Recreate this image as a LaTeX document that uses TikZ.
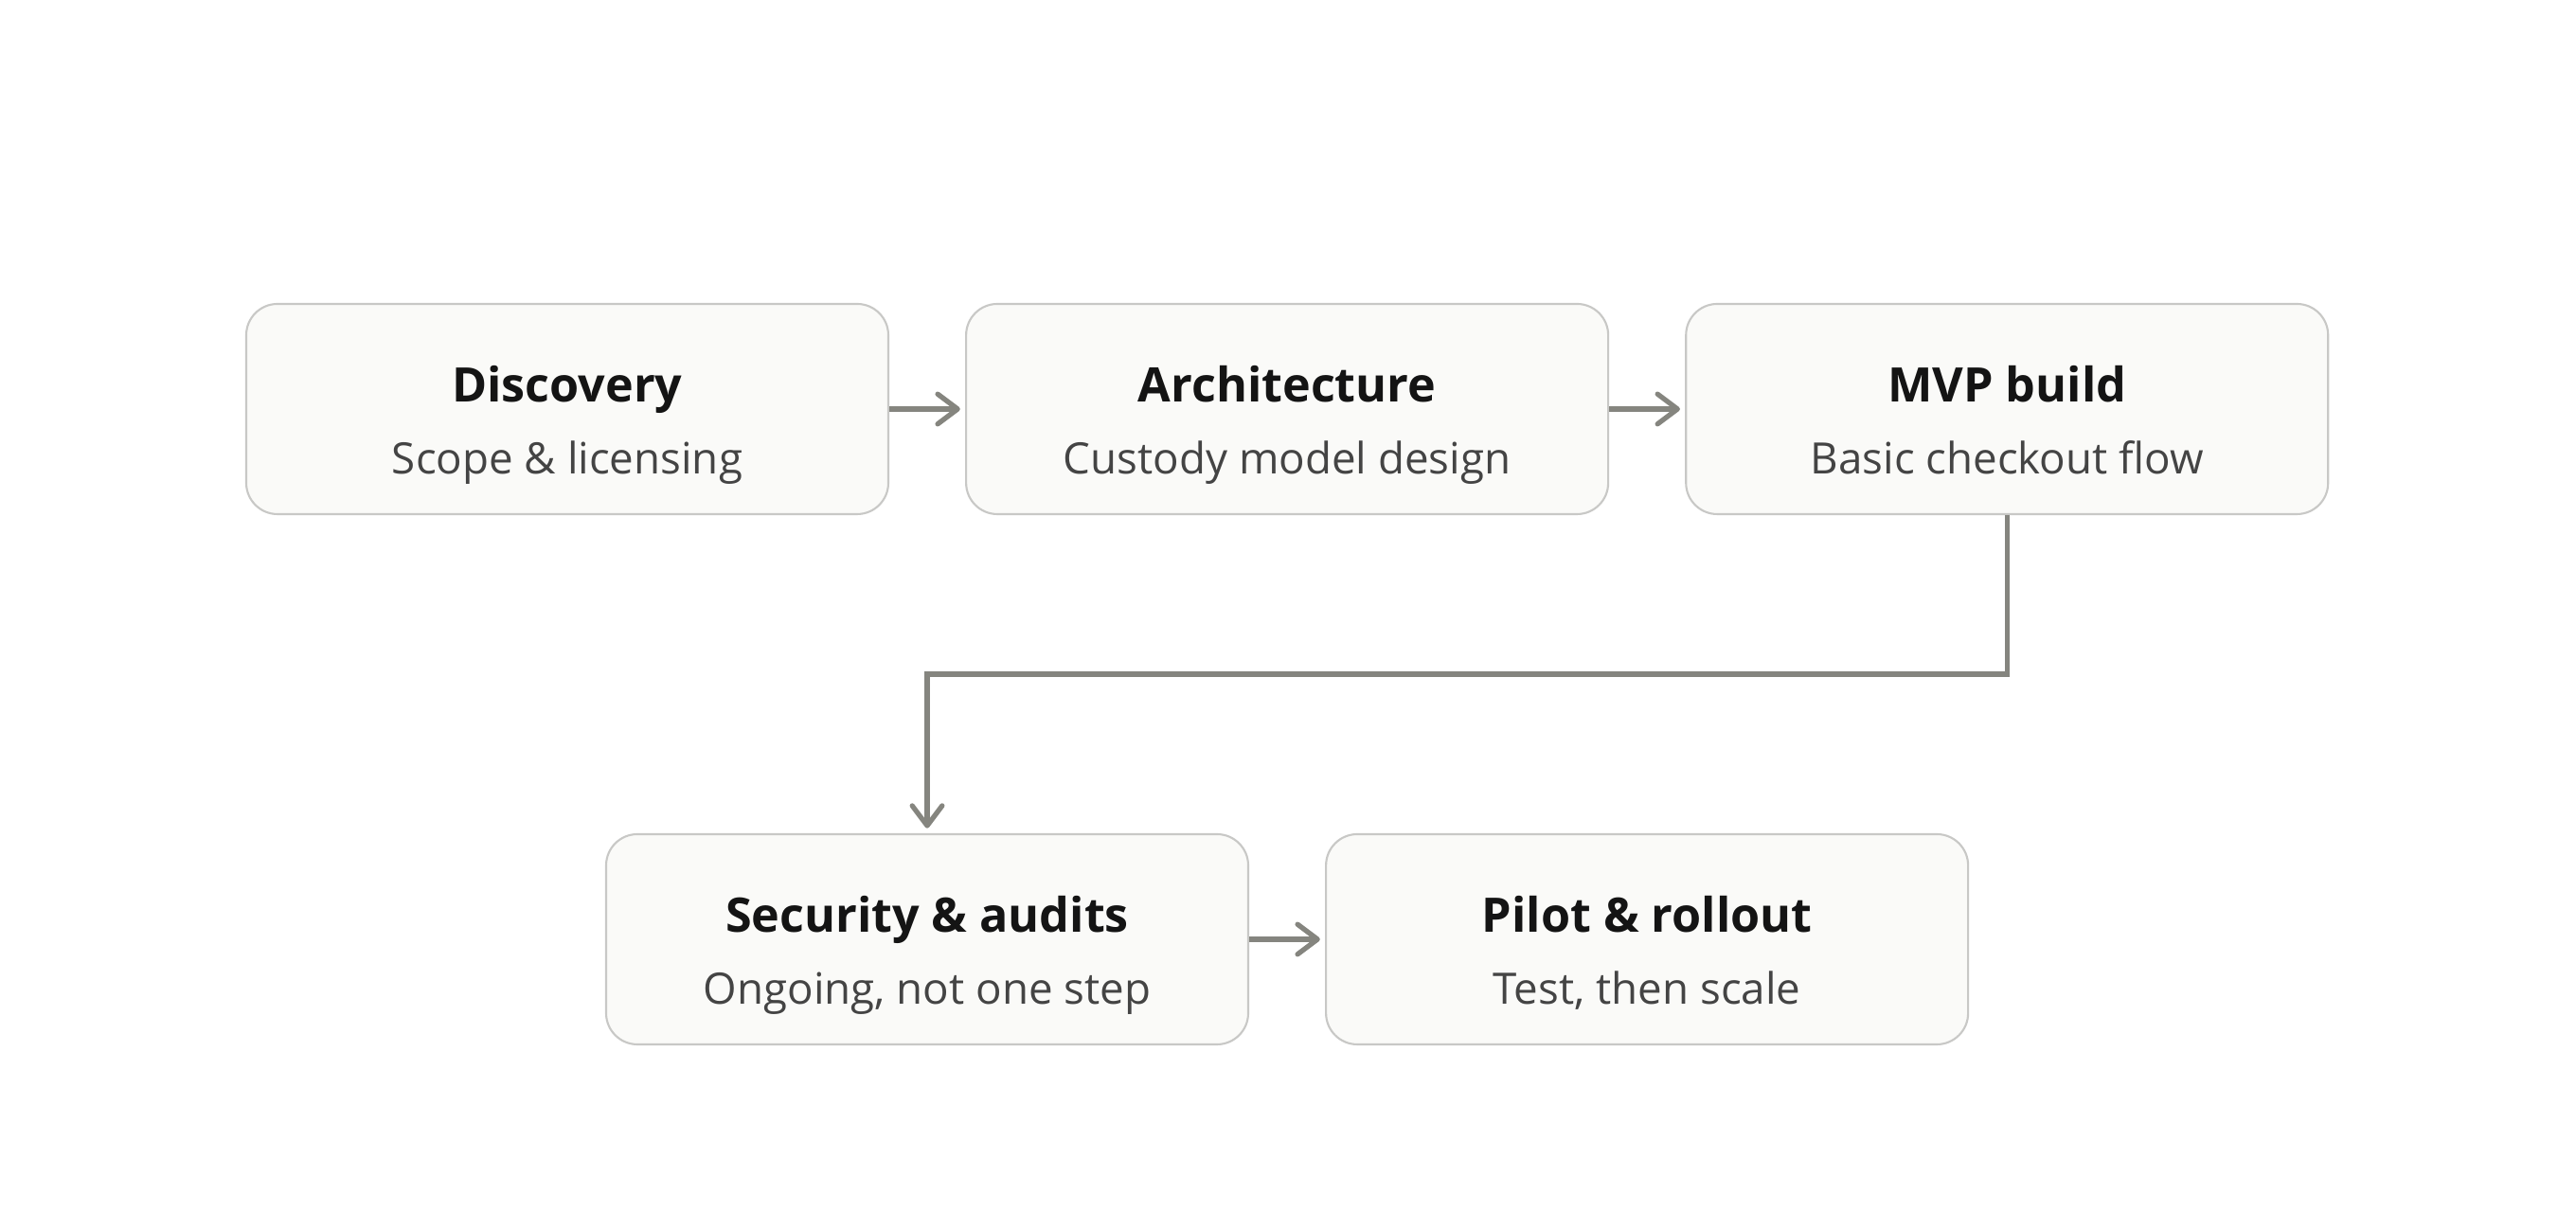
\documentclass[tikz,border=0pt]{standalone}
\usepackage{fontspec}
\setmainfont{Open Sans}
\usetikzlibrary{arrows.meta,positioning}
\definecolor{boxFill}{HTML}{FAFAF8}
\definecolor{boxLine}{HTML}{C8C8C6}
\definecolor{flowGray}{HTML}{85857F}
\definecolor{subGray}{HTML}{444444}
% title line and subtitle line with fixed struts, so all boxes share baselines
\newcommand\stagetext[2]{{\fontsize{14.3}{17}\selectfont\bfseries\color{black!92}\rule[-0.28cm]{0pt}{1.0cm}#1}\\[0pt]{\fontsize{13}{15}\selectfont\color{subGray}\rule[-0.1cm]{0pt}{0.545cm}#2}}

\begin{document}
\begin{tikzpicture}[
  stagebox/.style={draw=boxLine,line width=0.6pt,fill=boxFill,rounded corners=0.33cm,
    minimum width=6.78cm,minimum height=2.22cm,align=center,inner sep=0pt},
  flow/.style={draw=flowGray,line width=1.5pt,
    -{Straight Barb[length=6pt,width=9pt,round]},shorten >=1.5pt}
]
\useasboundingbox (0,0) rectangle (27.2,12.8);
% top row
\node[stagebox] (disc) at (5.99,8.48) {\stagetext{Discovery}{Scope \& licensing}};
\node[stagebox,right=0.8cm of disc] (arch) {\stagetext{Architecture}{Custody model design}};
\node[stagebox,right=0.8cm of arch] (mvp) {\stagetext{MVP build}{Basic checkout flow}};
% bottom row
\node[stagebox] (sec) at (9.79,2.88) {\stagetext{Security \& audits}{Ongoing, not one step}};
\node[stagebox,right=0.8cm of sec] (pilot) {\stagetext{Pilot \& rollout}{Test, then scale}};
% connectors
\draw[flow] (disc) -- (arch);
\draw[flow] (arch) -- (mvp);
\draw[flow] (mvp.south) -- ++(0,-1.68) -| (sec.north);
\draw[flow] (sec) -- (pilot);
\end{tikzpicture}
\end{document}
